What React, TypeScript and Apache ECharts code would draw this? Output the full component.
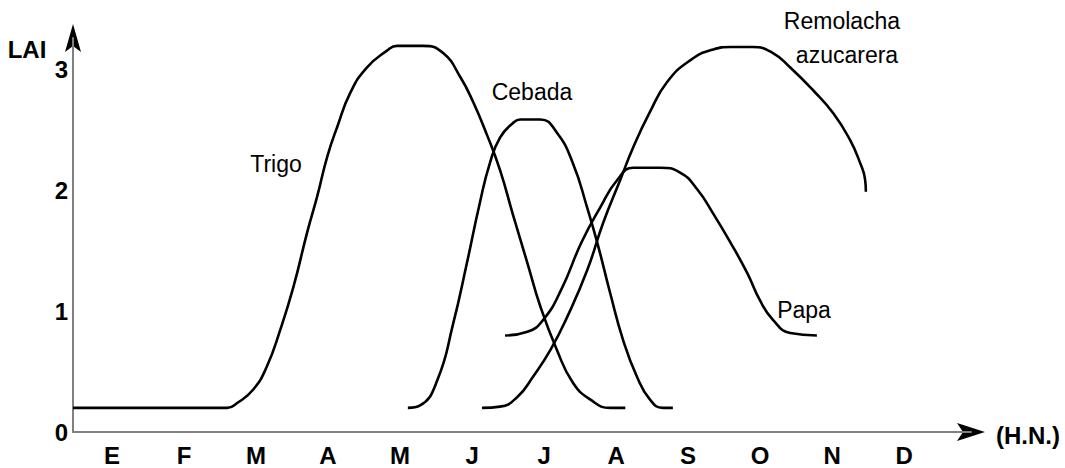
import React, { useEffect, useRef } from 'react';
import * as echarts from 'echarts';

const months = ['E', 'F', 'M', 'A', 'M', 'J', 'J', 'A', 'S', 'O', 'N', 'D'];
const yTickValues = [0, 1, 2, 3];

const trigoX = [0, 2.14, 2.28, 2.5, 2.69, 2.88, 3.06, 3.25, 3.39, 3.53, 3.67, 3.85, 4.08, 4.36, 4.5, 4.86, 5.14, 5.38, 5.56, 5.75, 5.93, 6.11, 6.31, 6.49, 6.72, 6.94, 7.18, 7.46, 7.67];
const trigoY = [0.2, 0.2, 0.24, 0.35, 0.54, 0.85, 1.2, 1.65, 1.95, 2.28, 2.53, 2.81, 3.02, 3.16, 3.2, 3.2, 3.14, 2.94, 2.73, 2.46, 2.17, 1.8, 1.4, 1.04, 0.68, 0.41, 0.27, 0.2, 0.2];

const cebadaX = [4.65, 4.82, 5.06, 5.28, 5.47, 5.65, 5.79, 5.93, 6.11, 6.21, 6.49, 6.72, 6.94, 7.14, 7.28, 7.46, 7.64, 7.83, 8.01, 8.19, 8.33];
const cebadaY = [0.2, 0.22, 0.43, 0.9, 1.4, 1.9, 2.23, 2.44, 2.56, 2.59, 2.59, 2.48, 2.23, 1.86, 1.57, 1.15, 0.76, 0.46, 0.27, 0.2, 0.2];

const papaX = [6.0, 6.31, 6.53, 6.78, 7.06, 7.32, 7.56, 7.78, 8.15, 8.43, 8.67, 8.89, 9.13, 9.36, 9.54, 9.72, 9.96, 10.33];
const papaY = [0.8, 0.83, 0.93, 1.18, 1.57, 1.86, 2.09, 2.19, 2.19, 2.15, 2.01, 1.81, 1.57, 1.32, 1.09, 0.93, 0.82, 0.8];

const remolachaX = [5.68, 5.93, 6.17, 6.39, 6.63, 6.86, 7.14, 7.36, 7.6, 7.78, 8.01, 8.25, 8.57, 8.89, 9.13, 9.44, 9.72, 9.96, 10.28, 10.56, 10.79, 10.93, 11.0, 11.01];
const remolachaY = [0.2, 0.21, 0.29, 0.46, 0.68, 0.95, 1.34, 1.73, 2.09, 2.36, 2.65, 2.9, 3.08, 3.17, 3.19, 3.19, 3.14, 3.02, 2.83, 2.64, 2.42, 2.23, 2.09, 1.99];

const FONT = '"Liberation Sans", Arial, Helvetica, sans-serif';

export default function App() {
  const ref = useRef<HTMLDivElement>(null);

  useEffect(() => {
    const chart = echarts.init(ref.current!, null, { renderer: 'svg' });
    const zip = (xs: number[], ys: number[]) => xs.map((x, i) => [x, ys[i]]);
    const line = (name: string, xs: number[], ys: number[]) => ({
      type: 'line',
      name,
      data: zip(xs, ys),
      smooth: 0.5,
      symbol: 'none',
      showSymbol: false,
      silent: true,
      lineStyle: { color: '#000', width: 2.6 },
    });
    const txt = (text: string, x: number, y: number, bold: boolean, align: string = 'center') => ({
      type: 'text',
      x,
      y,
      silent: true,
      style: {
        text,
        fill: '#000',
        fontFamily: FONT,
        fontSize: bold ? 24 : 23,
        fontWeight: bold ? 'bold' : 'normal',
        align,
        textAlign: align,
        verticalAlign: 'middle',
        textVerticalAlign: 'middle',
      },
    });

    chart.setOption({
      animation: false,
      backgroundColor: '#fff',
      grid: { left: 73, right: 94, top: 38, bottom: 36 },
      xAxis: {
        type: 'value',
        min: 0,
        max: 12.47,
        interval: 0.5,
        axisLine: { show: true, onZero: false, lineStyle: { color: '#808080', width: 2 } },
        axisTick: { show: false },
        splitLine: { show: false },
        axisLabel: {
          color: '#000',
          fontFamily: FONT,
          fontSize: 24,
          fontWeight: 'bold',
          margin: 11,
          padding: [0, 0, 0, 6],
          formatter: (v: number) => {
            const k = v - 0.5;
            const r = Math.round(k);
            if (Math.abs(k - r) < 1e-6 && r >= 0 && r < months.length) return months[r];
            return '';
          },
        },
      },
      yAxis: {
        type: 'value',
        min: 0,
        max: 3.265,
        interval: 1,
        axisLine: { show: true, onZero: false, lineStyle: { color: '#808080', width: 2 } },
        axisTick: { show: false },
        splitLine: { show: false },
        axisLabel: {
          color: '#000',
          fontFamily: FONT,
          fontSize: 24,
          fontWeight: 'bold',
          margin: 5,
          formatter: (v: number) => (yTickValues.indexOf(v) >= 0 ? String(v) : ''),
        },
      },
      series: [
        line('Trigo', trigoX, trigoY),
        line('Cebada', cebadaX, cebadaY),
        line('Papa', papaX, papaY),
        line('Remolacha azucarera', remolachaX, remolachaY),
      ],
      graphic: [
        {
          type: 'polygon',
          silent: true,
          shape: { points: [[985, 432], [957, 423], [963, 432], [957, 441]] },
          style: { fill: '#000' },
        },
        {
          type: 'polygon',
          silent: true,
          shape: { points: [[73, 24], [65, 52], [73, 46], [81, 52]] },
          style: { fill: '#000' },
        },
        txt('LAI', 27, 49, true),
        txt('(H.N.)', 996, 435, true, 'left'),
        txt('Trigo', 276, 164, false),
        txt('Cebada', 532, 92, false),
        txt('Remolacha', 842, 21, false),
        txt('azucarera', 847, 55, false),
        txt('Papa', 804, 310, false),
      ],
    });
    return () => chart.dispose();
  }, []);

  return (
    <div
      ref={ref}
      style={{ position: 'fixed', left: 0, top: 0, width: 1065, height: 468, background: '#fff' }}
    />
  );
}
